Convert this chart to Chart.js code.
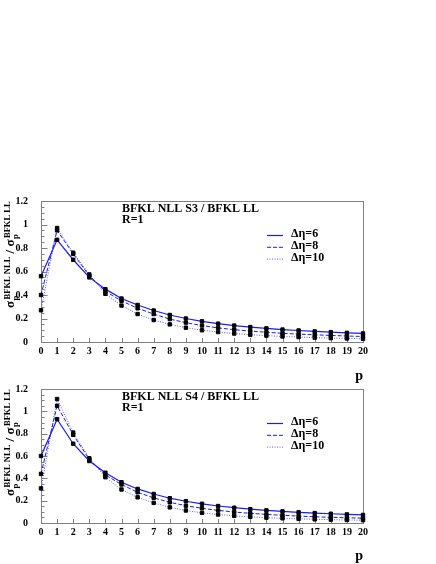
<!DOCTYPE html>
<html><head><meta charset="utf-8">
<script src="https://cdn.jsdelivr.net/npm/chart.js@4/dist/chart.umd.min.js"></script>
<style>
html,body{margin:0;padding:0;background:#fff;}
#wrap{position:relative;width:436px;height:564px;overflow:hidden;background:#fff;}
.box{position:absolute;left:0;width:436px;}
</style></head><body>
<div id="wrap">
  <div class="box" style="top:0;height:390px"><canvas id="cTop"></canvas></div>
  <div class="box" style="top:370px;height:194px"><canvas id="cBot"></canvas></div>
</div>
<script>
// ---- data ----
const pLabels = ['0','1','2','3','4','5','6','7','8','9','10','11','12','13','14','15','16','17','18','19','20'];
const seriesLabels = ['\u0394\u03b7=6','\u0394\u03b7=8','\u0394\u03b7=10'];
const yTickValues = [0, 0.2, 0.4, 0.6, 0.8, 1, 1.2];

const s3_deta6  = [0.56, 0.87, 0.70, 0.55, 0.45, 0.37, 0.315, 0.268, 0.230, 0.200, 0.176, 0.156, 0.140, 0.127, 0.116, 0.106, 0.098, 0.090, 0.084, 0.078, 0.073];
const s3_deta8  = [0.40, 0.95, 0.75, 0.565, 0.43, 0.35, 0.287, 0.238, 0.195, 0.165, 0.140, 0.120, 0.105, 0.093, 0.083, 0.074, 0.067, 0.061, 0.056, 0.051, 0.047];
const s3_deta10 = [0.27, 0.97, 0.76, 0.575, 0.41, 0.31, 0.238, 0.187, 0.150, 0.122, 0.100, 0.085, 0.072, 0.062, 0.054, 0.047, 0.042, 0.037, 0.033, 0.030, 0.027];

const s4_deta6  = [0.60, 0.93, 0.71, 0.555, 0.45, 0.365, 0.305, 0.260, 0.222, 0.195, 0.172, 0.152, 0.137, 0.124, 0.113, 0.104, 0.096, 0.089, 0.083, 0.077, 0.072];
const s4_deta8  = [0.44, 1.05, 0.79, 0.57, 0.43, 0.345, 0.275, 0.225, 0.185, 0.155, 0.132, 0.113, 0.098, 0.087, 0.077, 0.069, 0.062, 0.056, 0.051, 0.047, 0.043];
const s4_deta10 = [0.31, 1.11, 0.81, 0.58, 0.41, 0.30, 0.230, 0.180, 0.140, 0.112, 0.091, 0.076, 0.064, 0.055, 0.048, 0.042, 0.037, 0.033, 0.030, 0.027, 0.025];

const topTitle = 'BFKL NLL S3 / BFKL LL';
const botTitle = 'BFKL NLL S4 / BFKL LL';
const subTitle = 'R=1';

// ---- styles ----
const SERIF = '"Liberation Serif", "DejaVu Serif", serif';
const lineStyles = [
  {borderColor:'#1a1aff', borderWidth:1.2, borderDash:[]},
  {borderColor:'#1a1aff', borderWidth:1, borderDash:[4,2]},
  {borderColor:'#5a5aff', borderWidth:1, borderDash:[1,1.5]}
];

function makeDatasets(arrs){
  return arrs.map((d,i)=>Object.assign({
    label: seriesLabels[i], data: d, fill:false, tension:0,
    pointStyle:'rect', pointRadius:2.4, pointBackgroundColor:'#000', pointBorderColor:'#000', pointBorderWidth:1
  }, lineStyles[i]));
}

const framePlugin = {
  id:'frameTicks',
  beforeDatasetsDraw(chart){
    const {ctx, chartArea:a, scales:{x,y}} = chart;
    const L=Math.round(a.left)+0.5, R=Math.round(a.right)+0.5, T=Math.round(a.top)+0.5, B=Math.round(a.bottom)+0.5;
    ctx.save();
    ctx.strokeStyle='#808080'; ctx.lineWidth=1;
    ctx.beginPath();
    const maj = y.ticks.map(t=>t.value);
    for(let i=0;i<maj.length;i++){
      const yy = Math.round(y.getPixelForValue(maj[i]))+0.5;
      ctx.moveTo(L,yy); ctx.lineTo(L+6,yy);
      if(i<maj.length-1){
        for(let k=1;k<4;k++){
          const v = maj[i]+(maj[i+1]-maj[i])*k/4;
          const ym = Math.round(y.getPixelForValue(v))+0.5;
          ctx.moveTo(L,ym); ctx.lineTo(L+3,ym);
        }
      }
    }
    for(let i=0;i<x.ticks.length;i++){
      const xx = Math.round(x.getPixelForTick(i))+0.5;
      ctx.moveTo(xx,B); ctx.lineTo(xx,B-4.5);
    }
    ctx.stroke();
    ctx.strokeRect(L,T,R-L,B-T);
    ctx.restore();
  }
};

const textPlugin = {
  id:'panelText',
  afterDraw(chart, args, opts){
    const {ctx, chartArea:a} = chart;
    ctx.save();
    ctx.fillStyle='#000';
    ctx.textAlign='left'; ctx.textBaseline='alphabetic';
    ctx.font='bold 12px '+SERIF;
    ctx.fillText(opts.title, 122, a.top+10.5);
    ctx.fillText(subTitle, 122, a.top+21.5);
    chart.data.datasets.forEach((ds,i)=>{
      const ly = a.top+34.5+i*11.8;
      ctx.save();
      ctx.strokeStyle=ds.borderColor; ctx.lineWidth=ds.borderWidth; ctx.setLineDash(ds.borderDash||[]);
      ctx.beginPath(); ctx.moveTo(267,ly); ctx.lineTo(283,ly); ctx.stroke();
      ctx.restore();
      ctx.fillText(ds.label, 291, ly+1.5);
    });
    ctx.translate(14, a.top+107);
    ctx.rotate(-Math.PI/2);
    const big='bold 13px '+SERIF, small='bold 8.5px '+SERIF;
    let x=0;
    const part=(sup)=>{
      ctx.font=big; ctx.fillText('\u03c3',x,0); x+=ctx.measureText('\u03c3').width+0.5;
      ctx.font=small; ctx.fillText('p',x,3.5); const w1=ctx.measureText('p').width;
      ctx.fillText(sup,x+1,-4.5); const w2=ctx.measureText(sup).width+1;
      x+=Math.max(w1,w2);
    };
    part('BFKL NLL');
    ctx.font=big; ctx.fillText(' / ',x,0); x+=ctx.measureText(' / ').width;
    part('BFKL LL');
    ctx.restore();
  }
};

function makeChart(id, arrs, title, padTop, xHeight, titlePadBottom){
  return new Chart(document.getElementById(id), {
    type:'line',
    data:{labels:pLabels, datasets:makeDatasets(arrs)},
    options:{
      responsive:true, maintainAspectRatio:false, animation:false,
      layout:{padding:{top:padTop, left:0, right:73, bottom:0}},
      plugins:{legend:{display:false}, tooltip:{enabled:false}, panelText:{title:title}},
      scales:{
        x:{type:'category', offset:false,
           grid:{display:false, drawTicks:false}, border:{display:false},
           ticks:{autoSkip:false, maxRotation:0, minRotation:0, color:'#000', padding:3,
                  font:{family:SERIF, weight:'bold', size:10}},
           title:{display:true, text:'p', align:'end', color:'#000',
                  font:{family:SERIF, weight:'bold', size:14, lineHeight:1},
                  padding:{top:0, bottom:titlePadBottom}},
           afterFit(s){ s.height = xHeight; }},
        y:{min:0, max:1.2,
           grid:{display:false, drawTicks:false}, border:{display:false},
           ticks:{stepSize:0.2, color:'#000', padding:13,
                  font:{family:SERIF, weight:'bold', size:10},
                  callback:(v)=>{ const t=yTickValues.find(q=>Math.abs(q-v)<1e-9); return t===undefined? '' : String(t); }},
           afterFit(s){ s.width = 41; }}
      }
    },
    plugins:[framePlugin, textPlugin]
  });
}

makeChart('cTop', [s3_deta6, s3_deta8, s3_deta10], topTitle, 201, 48, 7);
makeChart('cBot', [s4_deta6, s4_deta8, s4_deta10], botTitle, 13, 41, 1);
</script>
</body></html>
